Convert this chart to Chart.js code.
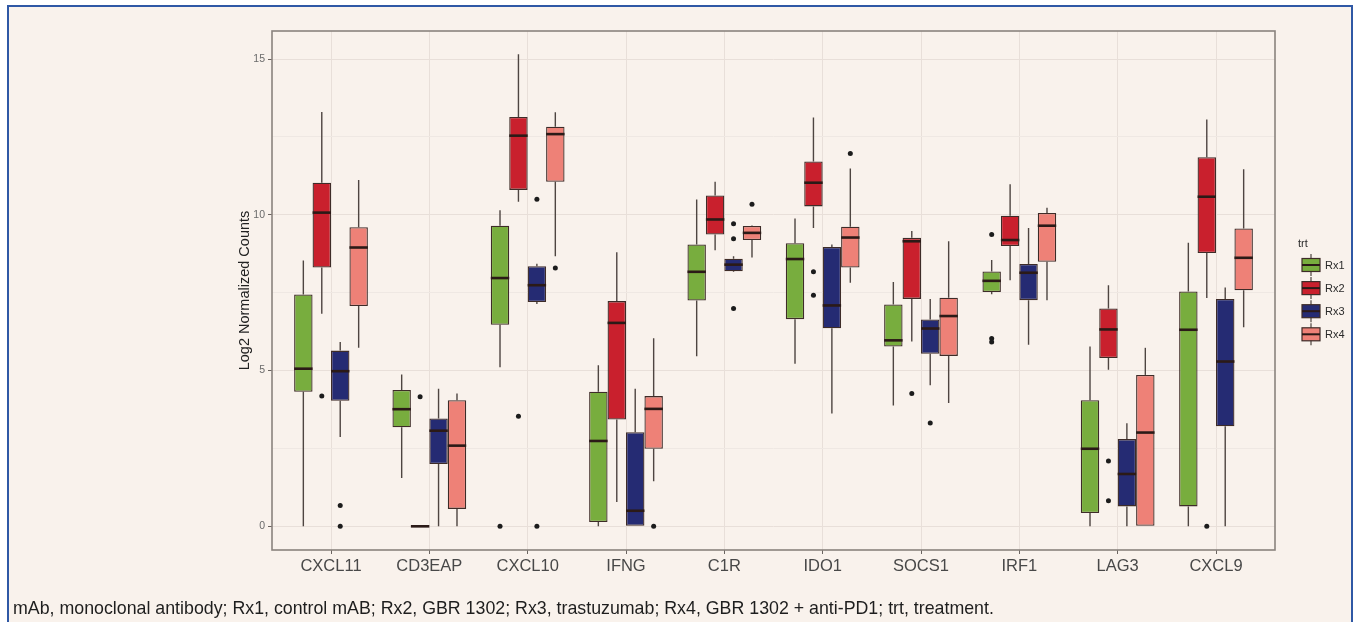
<!DOCTYPE html>
<html>
<head>
<meta charset="utf-8">
<script src="https://cdn.jsdelivr.net/npm/chart.js@4.4.1/dist/chart.umd.min.js"></script>
<style>
  html, body { margin: 0; padding: 0; background: #ffffff; }
  #frame { position: absolute; left: 7px; top: 5px; width: 1346px; height: 660px; box-sizing: border-box;
           border: 2px solid #2f58a5; border-bottom: none; background: #f9f2ec; }
  #plot { position: absolute; left: 0; top: 0; }
  #note { position: absolute; left: 13px; top: 598px; white-space: nowrap;
          font-family: 'Liberation Sans', Arial, sans-serif; font-size: 17.8px; color: #1e1e1e; }
</style>
</head>
<body>
<div id="frame"></div>
<canvas id="plot" width="1354" height="622"></canvas>
<div id="note">mAb, monoclonal antibody; Rx1, control mAB; Rx2, GBR 1302; Rx3, trastuzumab; Rx4, GBR 1302 + anti-PD1; trt, treatment.</div>
<script>
// Genes on the x axis and treatment groups
const genes = ['CXCL11', 'CD3EAP', 'CXCL10', 'IFNG', 'C1R', 'IDO1', 'SOCS1', 'IRF1', 'LAG3', 'CXCL9'];
const treatments = ['Rx1', 'Rx2', 'Rx3', 'Rx4'];
const yTicks = [0, 2.5, 5, 7.5, 10, 12.5, 15];

// Rx1 — box statistics per gene (log2 normalized counts)
const rx1Low  = [0,    1.55, 5.11, 0,    5.46, 5.22, 3.88, 7.45, 0,    0];
const rx1Q1   = [4.32, 3.18, 6.47, 0.14, 7.25, 6.65, 5.77, 7.52, 0.43, 0.64];
const rx1Med  = [5.06, 3.76, 7.97, 2.74, 8.17, 8.58, 5.97, 7.88, 2.49, 6.31];
const rx1Q3   = [7.44, 4.38, 9.65, 4.32, 9.05, 9.09, 7.12, 8.18, 4.05, 7.54];
const rx1High = [8.53, 4.87, 10.15, 5.17, 10.49, 9.88, 7.84, 8.55, 5.77, 9.1];
const rx1Out  = [[], [], [0], [], [], [], [], [9.37, 6.03, 5.92], [], []];

// Rx2
const rx2Low  = [6.82, 0, 10.42, 0.78, 8.86, 9.58, 5.93, 7.9, 5.03, 7.33];
const rx2Q1   = [8.31, 0, 10.8, 3.43, 9.37, 10.27, 7.3, 9.0, 5.4, 8.77];
const rx2Med  = [10.07, 0, 12.54, 6.53, 9.85, 11.03, 9.15, 9.19, 6.32, 10.58];
const rx2Q3   = [11.03, 0, 13.14, 7.23, 10.62, 11.71, 9.26, 9.97, 6.99, 11.85];
const rx2High = [13.3, 0, 15.15, 8.8, 11.06, 13.12, 9.48, 10.98, 7.74, 13.06];
const rx2Out  = [[4.18], [4.16], [3.53], [], [], [8.17, 7.42], [4.26], [], [2.1, 0.82], [0]];

// Rx3
const rx3Low  = [2.87, 0, 7.14, 0, 8.16, 3.62, 4.53, 5.83, 0, 0];
const rx3Q1   = [4.03, 2.0, 7.2, 0, 8.19, 6.36, 5.54, 7.26, 0.64, 3.21];
const rx3Med  = [4.98, 3.07, 7.74, 0.5, 8.4, 7.09, 6.35, 8.14, 1.68, 5.29];
const rx3Q3   = [5.64, 3.46, 8.35, 3.02, 8.59, 8.97, 6.64, 8.42, 2.8, 7.3];
const rx3High = [5.92, 4.42, 8.43, 4.42, 8.67, 9.05, 7.3, 9.58, 3.31, 7.67];
const rx3Out  = [[0.67, 0], [], [10.5, 0], [], [9.71, 9.23, 6.99], [], [3.32], [], [], []];

// Rx4
const rx4Low  = [5.73, 0, 8.67, 1.45, 8.63, 7.82, 3.96, 7.26, 0, 6.39];
const rx4Q1   = [7.07, 0.56, 11.06, 2.49, 9.19, 8.31, 5.47, 8.49, 0, 7.58];
const rx4Med  = [8.95, 2.59, 12.59, 3.77, 9.42, 9.27, 6.75, 9.65, 3.01, 8.62];
const rx4Q3   = [9.6, 4.05, 12.83, 4.18, 9.64, 9.62, 7.34, 10.06, 4.86, 9.56];
const rx4High = [11.12, 4.26, 13.29, 6.04, 9.66, 11.49, 9.15, 10.23, 5.73, 11.46];
const rx4Out  = [[], [], [8.29], [0], [10.34], [11.97], [], [], [], []];

const boxStats = [
  { low: rx1Low, q1: rx1Q1, med: rx1Med, q3: rx1Q3, high: rx1High, out: rx1Out },
  { low: rx2Low, q1: rx2Q1, med: rx2Med, q3: rx2Q3, high: rx2High, out: rx2Out },
  { low: rx3Low, q1: rx3Q1, med: rx3Med, q3: rx3Q3, high: rx3High, out: rx3Out },
  { low: rx4Low, q1: rx4Q1, med: rx4Med, q3: rx4Q3, high: rx4High, out: rx4Out }
];

const fills = ['#78ad3e', '#c9202d', '#252b73', '#ee8177'];
const boxEdge = '#3e2c28';
const FONT = "'Liberation Sans', Arial, sans-serif";

// Whiskers, medians, outliers, panel border and the legend
const boxplotParts = {
  id: 'boxplotParts',
  beforeDatasetsDraw(chart) {
    const { ctx } = chart; const y = chart.scales.y;
    ctx.save();
    ctx.strokeStyle = '#4e4541'; ctx.lineWidth = 1.4;
    boxStats.forEach((s, d) => {
      chart.getDatasetMeta(d).data.forEach((bar, i) => {
        ctx.beginPath();
        ctx.moveTo(bar.x, y.getPixelForValue(s.high[i]));
        ctx.lineTo(bar.x, y.getPixelForValue(s.q3[i]));
        ctx.moveTo(bar.x, y.getPixelForValue(s.q1[i]));
        ctx.lineTo(bar.x, y.getPixelForValue(s.low[i]));
        ctx.stroke();
      });
    });
    ctx.restore();
  },
  afterDatasetsDraw(chart) {
    const { ctx } = chart; const y = chart.scales.y;
    ctx.save();
    boxStats.forEach((s, d) => {
      chart.getDatasetMeta(d).data.forEach((bar, i) => {
        const py = y.getPixelForValue(s.med[i]);
        ctx.strokeStyle = '#2b1a17'; ctx.lineWidth = 2.6;
        ctx.beginPath();
        ctx.moveTo(bar.x - bar.width / 2, py);
        ctx.lineTo(bar.x + bar.width / 2, py);
        ctx.stroke();
        ctx.fillStyle = '#1c1c1c';
        s.out[i].forEach(v => {
          ctx.beginPath();
          ctx.arc(bar.x, y.getPixelForValue(v), 2.5, 0, Math.PI * 2);
          ctx.fill();
        });
      });
    });
    ctx.restore();
  },
  afterDraw(chart) {
    const { ctx, chartArea: a } = chart;
    ctx.save();
    ctx.strokeStyle = '#8a837e'; ctx.lineWidth = 1.6;
    ctx.strokeRect(a.left, a.top, a.right - a.left, a.bottom - a.top);

    // legend
    const lx = a.right + 23;
    ctx.font = '11px ' + FONT; ctx.fillStyle = '#2a2a2a';
    ctx.textBaseline = 'middle'; ctx.textAlign = 'left';
    ctx.fillText('trt', lx, 244);
    treatments.forEach((t, k) => {
      const cy = 265 + k * 23.1;
      const kx = lx + 4, kw = 18;
      ctx.strokeStyle = '#4e4541'; ctx.lineWidth = 1.2;
      ctx.beginPath();
      ctx.moveTo(kx + kw / 2, cy - 11); ctx.lineTo(kx + kw / 2, cy + 11);
      ctx.stroke();
      ctx.fillStyle = fills[k];
      ctx.fillRect(kx, cy - 6.5, kw, 13);
      ctx.strokeStyle = boxEdge; ctx.lineWidth = 1.2;
      ctx.strokeRect(kx, cy - 6.5, kw, 13);
      ctx.strokeStyle = '#2b1a17'; ctx.lineWidth = 2;
      ctx.beginPath(); ctx.moveTo(kx, cy); ctx.lineTo(kx + kw, cy); ctx.stroke();
      ctx.fillStyle = '#2a2a2a';
      ctx.fillText(t, kx + kw + 5, cy + 0.5);
    });
    ctx.restore();
  }
};

const gridColor = '#e8dfd9';
const minorGrid = '#efe8e3';

new Chart(document.getElementById('plot'), {
  type: 'bar',
  data: {
    datasets: boxStats.map((s, d) => ({
      label: treatments[d],
      data: genes.map((g, i) => ({ x: i, y: [s.q1[i], s.q3[i]] })),
      backgroundColor: fills[d],
      borderColor: boxEdge,
      borderWidth: 1.3,
      borderSkipped: false,
      categoryPercentage: 0.75,
      barPercentage: 1.0
    }))
  },
  options: {
    responsive: false,
    animation: false,
    devicePixelRatio: 1,
    layout: { padding: { left: 192, right: 79, top: 31, bottom: 32 } },
    plugins: { legend: { display: false }, tooltip: { enabled: false } },
    scales: {
      x: {
        type: 'linear', min: -0.6, max: 9.6, offset: false,
        afterBuildTicks: sc => { sc.ticks = genes.map((g, i) => ({ value: i })); },
        afterFit: sc => { sc.height = 40; },
        border: { display: false },
        grid: { offset: false, color: gridColor, lineWidth: 1, drawTicks: true, tickLength: 4, tickColor: '#6a6460' },
        ticks: {
          autoSkip: false, maxRotation: 0, padding: 3,
          font: { family: FONT, size: 16.5 }, color: '#484848',
          callback: v => genes[v]
        }
      },
      y: {
        min: -0.76, max: 15.9,
        afterBuildTicks: sc => { sc.ticks = yTicks.map(v => ({ value: v })); },
        afterFit: sc => { sc.width = 80; },
        border: { display: false },
        grid: {
          color: c => (c.tick && c.tick.value % 5 === 0) ? gridColor : minorGrid,
          lineWidth: 1, drawTicks: true, tickLength: 4,
          tickColor: c => (c.tick && c.tick.value % 5 === 0) ? '#6a6460' : 'rgba(0,0,0,0)'
        },
        ticks: {
          padding: 3, font: { family: FONT, size: 10.5 }, color: '#6b6b6b',
          callback: v => (v % 5 === 0 ? String(v) : '')
        },
        title: {
          display: true, text: 'Log2 Normalized Counts', color: '#222222',
          font: { family: FONT, size: 14.5 }, padding: { top: 44, bottom: 0 }
        }
      }
    }
  },
  plugins: [boxplotParts]
});
</script>
</body>
</html>
